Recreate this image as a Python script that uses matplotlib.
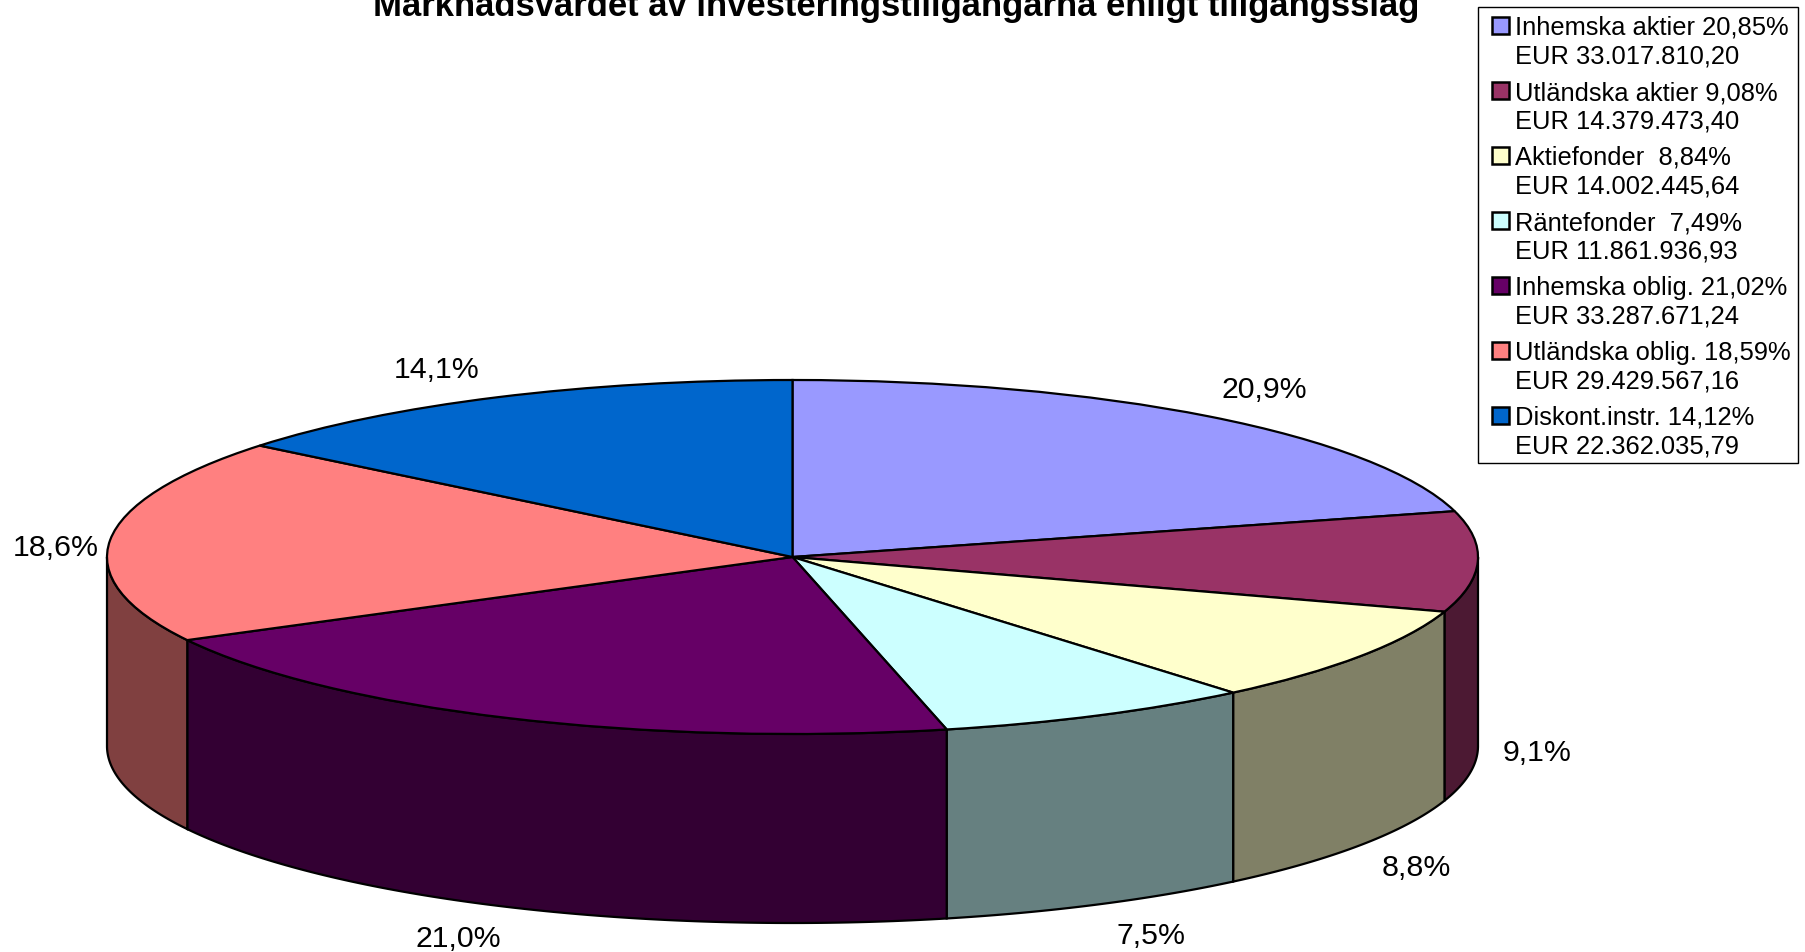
import numpy as np
import matplotlib as mpl
mpl.use('Agg')
import matplotlib.pyplot as plt
from matplotlib.patches import Rectangle

mpl.rc('font', family=['Liberation Sans', 'DejaVu Sans'])

W, H = 1805, 952

title = 'Marknadsvärdet av investeringstillgångarna enligt tillgångsslag'
values = [33017810.20, 14379473.40, 14002445.64, 11861936.93,
          33287671.24, 29429567.16, 22362035.79]
names = ['Inhemska aktier 20,85%', 'Utländska aktier 9,08%', 'Aktiefonder  8,84%',
         'Räntefonder  7,49%', 'Inhemska oblig. 21,02%', 'Utländska oblig. 18,59%',
         'Diskont.instr. 14,12%']
amounts = ['EUR 33.017.810,20', 'EUR 14.379.473,40', 'EUR 14.002.445,64',
           'EUR 11.861.936,93', 'EUR 33.287.671,24', 'EUR 29.429.567,16',
           'EUR 22.362.035,79']
pct_labels = ['20,9%', '9,1%', '8,8%', '7,5%', '21,0%', '18,6%', '14,1%']
colors = ['#9999FF', '#993366', '#FFFFCC', '#CCFFFF', '#660066', '#FF8080', '#0066CC']
walls = ['#4C4C80', '#4C1933', '#808066', '#668080', '#330033', '#804040', '#003366']

# pixel geometry of the squashed pie
cx, cy, rx, ry, depth = 792.5, 557., 685.5, 177., 189.
label_pos = [(1264, 390), (1537, 753), (1416, 868), (1151, 936),
             (458, 939), (56, 548), (437, 370)]

fig = plt.figure(figsize=(W/100., H/100.), dpi=100)

# the original chart snaps slice edges to whole degrees
cum_deg = np.round(np.cumsum(values) / np.sum(values) * 360)
slice_deg = np.diff(np.concatenate([[0.], cum_deg]))

ax = fig.add_axes([0, 0, 1, 1])
ax.pie(slice_deg, colors=colors, startangle=90, counterclock=False, radius=1,
       wedgeprops=dict(edgecolor='k', linewidth=1.6, zorder=3))
ax.set_aspect('auto')
ax.set_xlim((0 - cx)/rx, (W - cx)/rx)
ax.set_ylim((cy - H)/ry, cy/ry)
ax.axis('off')

# side walls, only the front half of the rim shows
edges = np.radians(np.concatenate([[0.], cum_deg]))
for i in range(len(values)):
    a0 = max(edges[i], np.pi/2)
    a1 = min(edges[i+1], 3*np.pi/2)
    if a1 <= a0:
        continue
    th = np.linspace(a0, a1, 100)
    xs = np.concatenate([np.sin(th), np.sin(th[::-1])])
    ys = np.concatenate([np.cos(th), np.cos(th[::-1]) - depth/ry])
    ax.fill(xs, ys, fc=walls[i], ec='k', lw=1.6, zorder=1, joinstyle='miter')

# overlay in pixel coordinates for the texts and the legend
top = fig.add_axes([0, 0, 1, 1])
top.set_xlim(0, W)
top.set_ylim(H, 0)
top.axis('off')
top.patch.set_alpha(0)

top.text(896, 16, title, ha='center', va='baseline', fontsize=24.9, fontweight='bold')

for (x, y), s in zip(label_pos, pct_labels):
    top.text(x, y, s, ha='center', va='center', fontsize=21.8)

top.add_patch(Rectangle((1478, 7), 320, 456, fc='w', ec='k', lw=1.0))
for i in range(len(names)):
    base = 35 + 65*i
    top.add_patch(Rectangle((1492, base - 18), 17, 17, fc=colors[i], ec='k', lw=1.8))
    top.text(1515, base, names[i], va='baseline', fontsize=18.35)
    top.text(1515, base + 28.5, amounts[i], va='baseline', fontsize=18.35)

fig.savefig('out.png', dpi=100)
